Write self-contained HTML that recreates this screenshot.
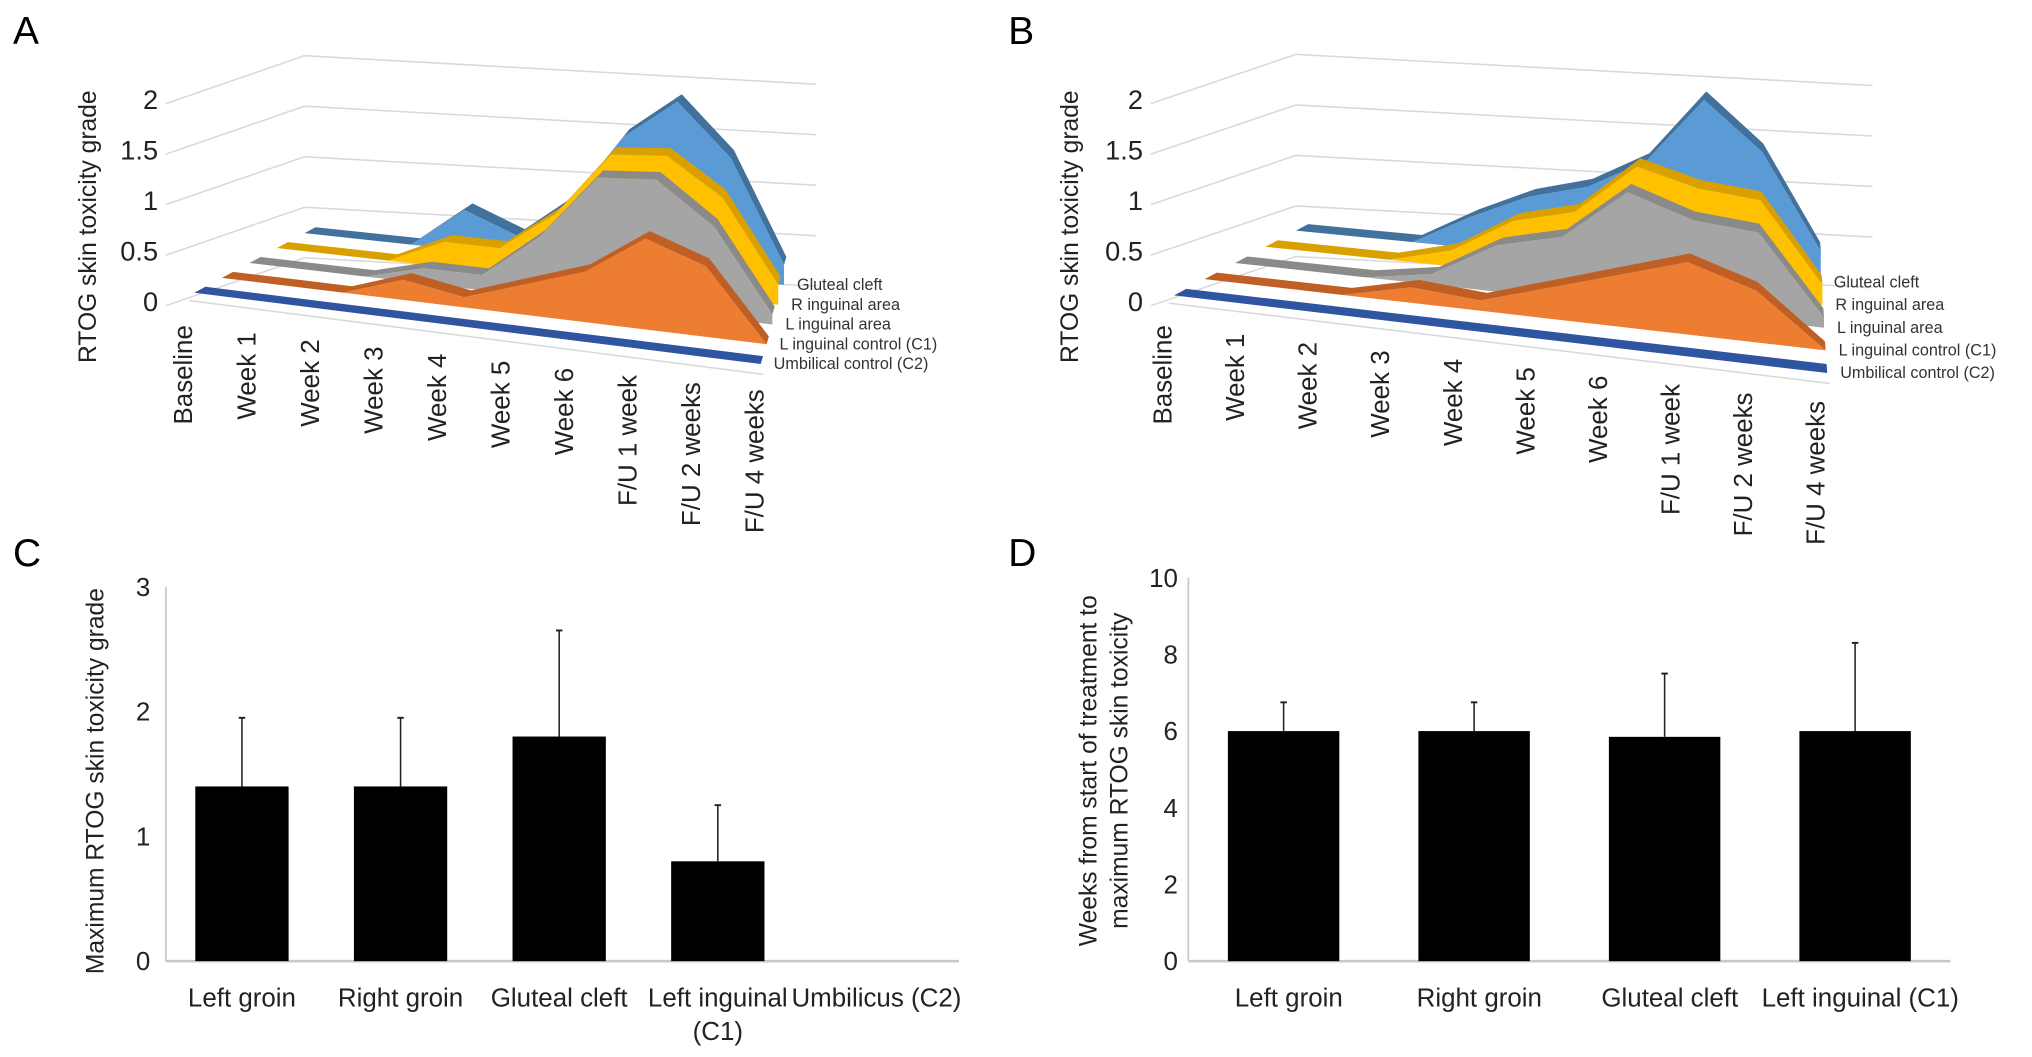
<!DOCTYPE html>
<html><head><meta charset="utf-8"><style>
html,body{margin:0;padding:0;background:#fff;}
svg{display:block;font-family:"Liberation Sans",Arial,sans-serif;}
</style></head><body>
<svg id="fig" xmlns="http://www.w3.org/2000/svg" width="2032" height="1057" viewBox="0 0 1568 816" preserveAspectRatio="none">
<text x="10" y="34" font-size="30">A</text>
<text x="778" y="34" font-size="30">B</text>
<text x="10" y="437" font-size="30">C</text>
<text x="778" y="437" font-size="30">D</text>
<g id="pa"></g>
<g id="pb"></g>
<g id="pc"></g>
<g id="pd"></g>
</svg>
<script>
// ---------- 3D area data ----------
const weekCats = ["Baseline","Week 1","Week 2","Week 3","Week 4","Week 5","Week 6","F/U 1 week","F/U 2 weeks","F/U 4 weeks"];
const seriesNames = ["Umbilical control (C2)","L inguinal control (C1)","L inguinal area","R inguinal area","Gluteal cleft"];
const yTicks3d = [0,0.5,1,1.5,2];
const aUmb = [0,0,0,0,0,0,0,0,0,0];
const aC1 = [0,0,0,0.2,0.1,0.3,0.5,0.9,0.7,0];
const aLing = [0,0,0,0.15,0.15,0.6,1.25,1.3,0.9,0.1];
const aRing = [0,0,0,0.25,0.25,0.65,1.3,1.35,1.0,0.2];
const aGlut = [0,0,0,0.4,0.2,0.6,1.3,1.7,1.2,0.2];
const bUmb = [0,0,0,0,0,0,0,0,0,0];
const bC1 = [0,0,0,0.15,0.1,0.3,0.5,0.7,0.5,0];
const bLing = [0,0,0,0.1,0.45,0.6,1.1,0.9,0.85,0.1];
const bRing = [0,0,0,0.15,0.5,0.65,1.15,1.0,0.95,0.2];
const bGlut = [0,0,0,0.3,0.55,0.7,1.0,1.65,1.2,0.3];
// ---------- bar data ----------
const cCats = ["Left groin","Right groin","Gluteal cleft","Left inguinal|(C1)","Umbilicus (C2)"];
const cVals = [1.4,1.4,1.8,0.8,0];
const cErrTop = [1.95,1.95,2.65,1.25,0];
const cTicks = [0,1,2,3];
const dCats = ["Left groin","Right groin","Gluteal cleft","Left inguinal (C1)"];
const dVals = [6,6,5.85,6];
const dErrTop = [6.75,6.75,7.5,8.3];
const dTicks = [0,2,4,6,8,10];

const NS="http://www.w3.org/2000/svg";
function mk(tag,attrs,parent){const e=document.createElementNS(NS,tag);for(const k in attrs)e.setAttribute(k,attrs[k]);parent.appendChild(e);return e;}
const colors=[["#2f55a0","#3b66b8"],["#c05f24","#ed7d31"],["#8a8a8a","#a5a5a5"],["#d9a000","#ffc000"],["#41719c","#5b9bd5"]];

function area3d(g,cfg,data){
  const proj=(d,i,v)=>{const t=d/4;
    const sx=cfg.f0[0]+(cfg.b0[0]-cfg.f0[0])*t, sy=cfg.f0[1]+(cfg.b0[1]-cfg.f0[1])*t;
    const ex=cfg.f9[0]+(cfg.b9[0]-cfg.f9[0])*t, ey=cfg.f9[1]+(cfg.b9[1]-cfg.f9[1])*t;
    return [sx+(ex-sx)*i/9, sy+(ey-sy)*i/9 - v*cfg.hv];};
  const yv=(v)=>cfg.gl[1]-78*v;
  yTicks3d.forEach(v=>{
    const l=mk('polyline',{points:`${cfg.gl[0]},${yv(v)} ${cfg.gc[0]},${cfg.gc[1]-78*v} ${cfg.gr[0]},${cfg.gr[1]-78*v}`,fill:'none',stroke:'#d9d9d9','stroke-width':1.2},g);
    
    
    const t=mk('text',{x:cfg.gl[0]-6,y:yv(v)+4,'font-size':21,'text-anchor':'end',fill:'#222'},g);
    t.textContent=String(v);
    
    
  });
  const fe=mk('line',{x1:cfg.f0[0]-4,y1:cfg.f0[1]+6,x2:cfg.f9[0]+2,y2:cfg.f9[1]+8,stroke:'#d9d9d9','stroke-width':1.2},g);
  
  
  for(let d=4;d>=0;d--){
    const vals=data[d];
    let top=[],back=[],base=[];
    for(let i=0;i<10;i++){top.push(proj(d,i,vals[i]));back.push(proj(d+0.4,i,vals[i]));base.push(proj(d,i,0));}
    const face=top.concat(back.slice().reverse()).map(p=>p.join(',')).join(' ');
    const tf=mk('polygon',{points:face,fill:colors[d][0]},g);
    
    
    const fr=top.concat(base.slice().reverse()).map(p=>p.join(',')).join(' ');
    const ff=mk('polygon',{points:fr,fill:colors[d][1]},g);
    
    
    const lp=proj(d,9,0);
    const lt=mk('text',{x:lp[0]+10,y:lp[1]+4,'font-size':12.5,fill:'#333'},g);
    lt.textContent=seriesNames[d];
    
    
  }
  weekCats.forEach((c,i)=>{
    const x=cfg.lx0+i*cfg.ldx, y=cfg.ly0+i*cfg.ldy;
    const t=mk('text',{x:0,y:0,'font-size':20,'text-anchor':'end',fill:'#222',transform:`translate(${x+7},${y}) rotate(-90)`},g);
    t.textContent=c;
    
    
  });
  const yt=mk('text',{x:0,y:0,'font-size':19,'text-anchor':'middle',fill:'#222',transform:`translate(${cfg.tx},175) rotate(-90)`},g);
  yt.textContent='RTOG skin toxicity grade';
  
  
}
area3d(document.getElementById('pa'),{f0:[150,226],f9:[587,281],b0:[235,180],b9:[605,220],hv:78,gl:[128,236],gc:[235,199],gr:[630,221],lx0:141,ldx:49,ly0:251,ldy:5.5,tx:74},[aUmb,aC1,aLing,aRing,aGlut]);
area3d(document.getElementById('pb'),{f0:[906,228],f9:[1410,288],b0:[1000,178],b9:[1405,218],hv:80,gl:[888,236],gc:[1000,198],gr:[1445,222],lx0:897,ldx:56,ly0:251,ldy:6.5,tx:832},[bUmb,bC1,bLing,bRing,bGlut]);

function bars(g,cfg,cats,vals,errs,ticks){
  const ys=v=>cfg.y0-(cfg.y0-cfg.yT)*v/cfg.max;
  const step=(cfg.x1-cfg.x0)/cats.length;
  const xc=i=>cfg.x0+step*(i+0.5)+cfg.shift;
  mk('line',{x1:cfg.x0,y1:cfg.yT,x2:cfg.x0,y2:cfg.y0,stroke:'#c8c8c8','stroke-width':1.3},g);
  mk('line',{x1:cfg.x0,y1:cfg.y0,x2:cfg.x1,y2:cfg.y0,stroke:'#c8c8c8','stroke-width':2},g);
  ticks.forEach(v=>{
    const t=mk('text',{x:cfg.x0-cfg.tg,y:ys(v)+7,'font-size':20,'text-anchor':'end',fill:'#222'},g);
    t.textContent=String(v);
    
    
  });
  cats.forEach((c,i)=>{
    if(vals[i]>0){
      const r=mk('rect',{x:xc(i)-cfg.bw/2,y:ys(vals[i]),width:cfg.bw,height:ys(0)-ys(vals[i]),fill:'#000'},g);
      
      
      const e=mk('line',{x1:xc(i),y1:ys(vals[i]),x2:xc(i),y2:ys(errs[i]),stroke:'#222','stroke-width':1.2},g);
      
      
      const cp=mk('line',{x1:xc(i)-2.5,y1:ys(errs[i]),x2:xc(i)+2.5,y2:ys(errs[i]),stroke:'#222','stroke-width':1.5},g);
      
      
    }
    c.split('|').forEach((ln,k)=>{
      const t=mk('text',{x:xc(i)+(cfg.lshift||0),y:cfg.y0+35+k*26,'font-size':20,'text-anchor':'middle',fill:'#222'},g);
      t.textContent=ln;
      
      
    });
  });
}
bars(document.getElementById('pc'),{x0:128,x1:740,y0:742,yT:453,max:3,bw:72,shift:-2.5,tg:12},cCats,cVals,cErrTop,cTicks);
bars(document.getElementById('pd'),{x0:917,x1:1505,y0:742,yT:446,max:10,bw:86,shift:0,lshift:4,tg:8},dCats,dVals,dErrTop,dTicks);
const ct=mk('text',{x:0,y:0,'font-size':19,'text-anchor':'middle',fill:'#222',transform:'translate(80,603) rotate(-90)'},document.getElementById('pc'));
ct.textContent='Maximum RTOG skin toxicity grade';


const dg=document.getElementById('pd');
const d1=mk('text',{x:0,y:0,'font-size':19,'text-anchor':'middle',fill:'#222',transform:'translate(846,595) rotate(-90)'},dg);
d1.textContent='Weeks from start of treatment to';


const d2=mk('text',{x:0,y:0,'font-size':19,'text-anchor':'middle',fill:'#222',transform:'translate(870,595) rotate(-90)'},dg);
d2.textContent='maximum RTOG skin toxicity';


</script>
</body></html>
